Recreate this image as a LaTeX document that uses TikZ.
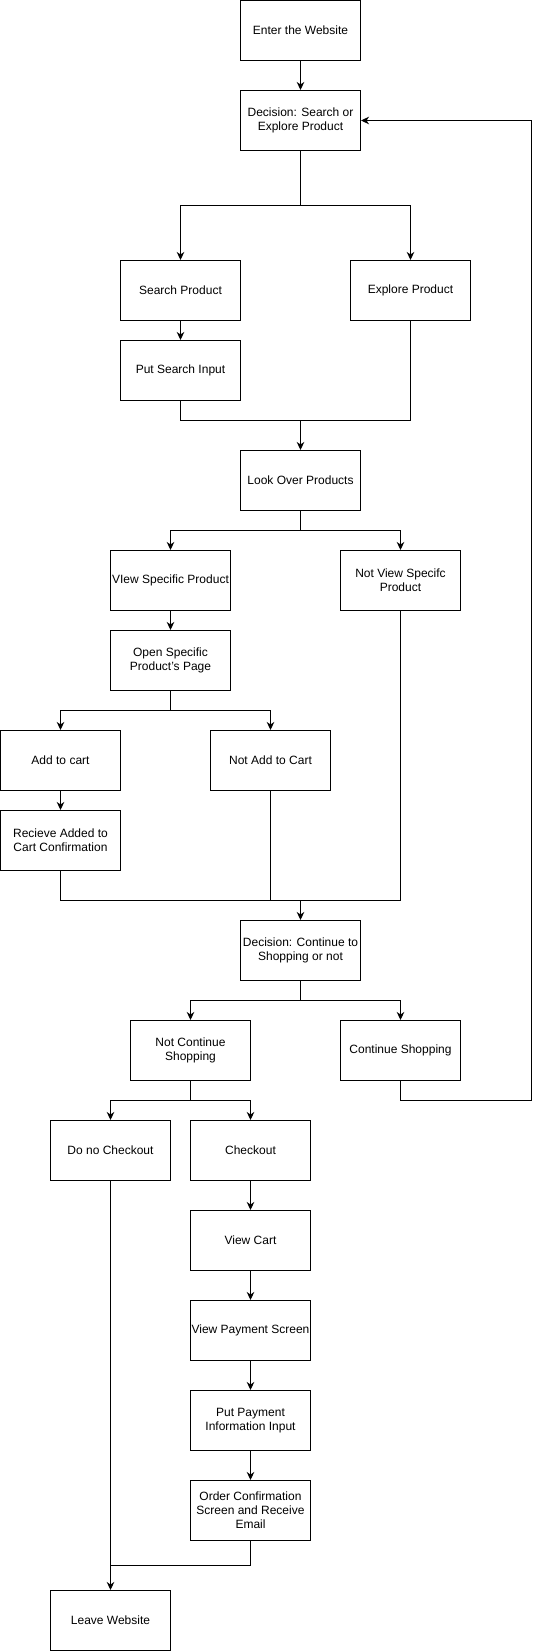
\documentclass[tikz,border=0pt]{standalone}
\usepackage{fontspec}
\setmainfont{Liberation Sans}
\usetikzlibrary{arrows.meta}
\begin{document}
\begin{tikzpicture}[x=1pt,y=-1pt,
  box/.style={draw, line width=1pt, minimum width=120pt, minimum height=60pt, inner sep=0pt,
    align=center, font=\fontsize{12}{14}\selectfont},
  conn/.style={line width=1pt},
  arr/.style={conn, -{Stealth[length=8pt,width=7.5pt,inset=2.5pt]}}]
\useasboundingbox (-0.5,-0.5) rectangle (538.5,1650.5);
\node[box] (enter) at (300,30) {Enter the Website};
\node[box] (dec1) at (300,120) {Decision: Search or\\Explore Product};
\node[box] (search) at (180,290) {Search Product};
\node[box] (explore) at (410,290) {Explore Product};
\node[box] (psearch) at (180,370) {Put Search Input};
\node[box] (look) at (300,480) {Look Over Products};
\node[box] (viewsp) at (170,580) {VIew Specific Product};
\node[box] (notview) at (400,580) {Not View Specifc\\Product};
\node[box] (open) at (170,660) {Open Specific\\Product's Page};
\node[box] (add) at (60,760) {Add to cart};
\node[box] (notadd) at (270,760) {Not Add to Cart};
\node[box] (recv) at (60,840) {Recieve Added to\\Cart Confirmation};
\node[box] (dec2) at (300,950) {Decision: Continue to\\Shopping or not};
\node[box] (notcont) at (190,1050) {Not Continue\\Shopping};
\node[box] (cont) at (400,1050) {Continue Shopping};
\node[box] (nocheck) at (110,1150) {Do no Checkout};
\node[box] (check) at (250,1150) {Checkout};
\node[box] (cart) at (250,1240) {View Cart};
\node[box] (pay) at (250,1330) {View Payment Screen};
\node[box] (ppay) at (250,1420) {Put Payment\\Information Input};
\node[box] (order) at (250,1510) {Order Confirmation\\Screen and Receive\\Email};
\node[box] (leave) at (110,1620) {Leave Website};

\coordinate (j1) at (300,205);
\coordinate (j2) at (300,420);
\coordinate (j3) at (300,530);
\coordinate (j4) at (170,710);
\coordinate (j5) at (300,900);
\coordinate (j6) at (300,1000);
\coordinate (j7) at (190,1100);
\coordinate (j8) at (110,1565);
\coordinate (loop) at (530.5,1100);

\draw[arr] (enter) -- (dec1);
\draw[conn] (dec1.south) -- (j1);
\draw[arr] (j1) -| (search.north);
\draw[arr] (j1) -| (explore.north);
\draw[arr] (search) -- (psearch);
\draw[conn] (psearch.south) |- (j2);
\draw[conn] (explore.south) |- (j2);
\draw[arr] (j2) -- (look.north);
\draw[conn] (look.south) -- (j3);
\draw[arr] (j3) -| (viewsp.north);
\draw[arr] (j3) -| (notview.north);
\draw[arr] (viewsp) -- (open);
\draw[conn] (open.south) -- (j4);
\draw[arr] (j4) -| (add.north);
\draw[arr] (j4) -| (notadd.north);
\draw[arr] (add) -- (recv);
\draw[conn] (recv.south) |- (j5);
\draw[conn] (notadd.south) -- (notadd.south |- j5);
\draw[conn] (notview.south) |- (j5);
\draw[arr] (j5) -- (dec2.north);
\draw[conn] (dec2.south) -- (j6);
\draw[arr] (j6) -| (notcont.north);
\draw[arr] (j6) -| (cont.north);
\draw[conn] (notcont.south) -- (j7);
\draw[arr] (j7) -| (nocheck.north);
\draw[arr] (j7) -| (check.north);
\draw[arr] (cont.south) |- (loop) |- (dec1.east);
\draw[arr] (check) -- (cart);
\draw[arr] (cart) -- (pay);
\draw[arr] (pay) -- (ppay);
\draw[arr] (ppay) -- (order);
\draw[conn] (order.south) |- (j8);
\draw[arr] (nocheck.south) -- (leave.north);
\end{tikzpicture}
\end{document}
